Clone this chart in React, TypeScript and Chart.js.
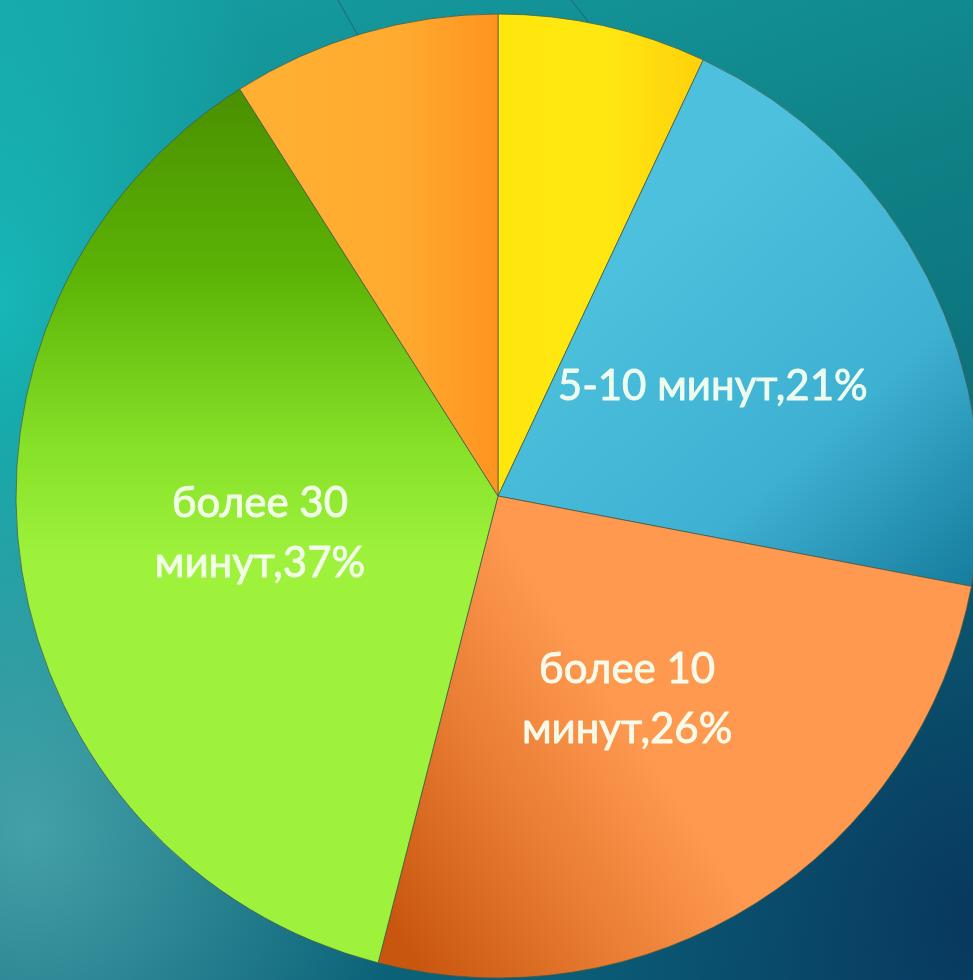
import React, { useEffect, useRef } from "react";
import { Chart, registerables } from "chart.js";

Chart.register(...registerables);

const categories = ["до 5 минут", "5-10 минут", "более 10 минут", "более 30 минут", "не смотрю"];
const values = [7, 21, 26, 37, 9];
const labelLines: string[][] = [[], ["5-10 минут,21%"], ["более 10", "минут,26%"], ["более 30", "минут,37%"], []];

const W = 996;
const H = 992;
const R = 482;

function makeFill(c: CanvasRenderingContext2D, i: number): CanvasGradient | string {
  const cx = W / 2;
  if (i === 0) {
    const g = c.createLinearGradient(cx, 0, cx + 210, 0);
    g.addColorStop(0, "#ffe70c");
    g.addColorStop(0.5, "#ffe812");
    g.addColorStop(1, "#ffcf0a");
    return g;
  }
  if (i === 1) {
    const g = c.createLinearGradient(640, 250, 960, 600);
    g.addColorStop(0, "#4dc0dd");
    g.addColorStop(0.55, "#3eb0d2");
    g.addColorStop(1, "#157c9c");
    return g;
  }
  if (i === 2) {
    const g = c.createLinearGradient(400, 940, 660, 770);
    g.addColorStop(0, "#c9560e");
    g.addColorStop(0.5, "#e67a30");
    g.addColorStop(1, "#ff9950");
    return g;
  }
  if (i === 3) {
    const g = c.createLinearGradient(0, 90, 0, 560);
    g.addColorStop(0, "#4a9000");
    g.addColorStop(0.4, "#5cb406");
    g.addColorStop(0.75, "#86e028");
    g.addColorStop(1, "#9ef23c");
    return g;
  }
  const g = c.createLinearGradient(250, 0, cx, 0);
  g.addColorStop(0, "#ffb032");
  g.addColorStop(0.6, "#ffab30");
  g.addColorStop(1, "#ff9420");
  return g;
}

const decorPlugin = {
  id: "decor",
  beforeDraw(chart: any) {
    const c = chart.ctx as CanvasRenderingContext2D;
    c.save();
    c.strokeStyle = "rgba(40,60,60,0.5)";
    c.lineWidth = 1;
    c.beginPath();
    c.moveTo(338, 0);
    c.lineTo(366, 50);
    c.moveTo(571, 0);
    c.lineTo(605, 43);
    c.stroke();
    c.restore();
  },
};

const labelPlugin = {
  id: "sliceLabels",
  afterDatasetsDraw(chart: any) {
    const c = chart.ctx as CanvasRenderingContext2D;
    const meta = chart.getDatasetMeta(0);
    c.save();
    c.font = "42px Lato, 'Open Sans', sans-serif";
    c.textAlign = "center";
    c.textBaseline = "middle";
    c.fillStyle = "rgba(246,255,240,0.95)";
    c.strokeStyle = "rgba(246,255,240,0.9)";
    c.lineWidth = 0.9;
    c.lineJoin = "round";
    meta.data.forEach((arc: any, i: number) => {
      const lines = labelLines[i];
      if (!lines || !lines.length) return;
      const p = arc.getCenterPoint();
      const lh = 60;
      const start = p.y - ((lines.length - 1) * lh) / 2;
      lines.forEach((t, k) => {
        c.fillText(t, p.x, start + k * lh);
        c.strokeText(t, p.x, start + k * lh);
      });
    });
    c.restore();
  },
};

export default function App() {
  const ref = useRef<HTMLCanvasElement | null>(null);
  useEffect(() => {
    if (!ref.current) return;
    const chart = new Chart(ref.current, {
      type: "pie",
      data: {
        labels: categories,
        datasets: [
          {
            data: values,
            backgroundColor: (ctx: any) => makeFill(ctx.chart.ctx, ctx.dataIndex),
            borderColor: "rgba(70,90,70,0.75)",
            borderWidth: 1,
            radius: R,
          } as any,
        ],
      },
      options: {
        responsive: false,
        animation: false,
        layout: { padding: 0 },
        plugins: {
          legend: { display: false },
          tooltip: { enabled: false },
        },
      },
      plugins: [decorPlugin, labelPlugin],
    });
    return () => chart.destroy();
  }, []);

  return (
    <div
      style={{
        position: "fixed",
        left: 0,
        top: 0,
        width: 973,
        height: 980,
        overflow: "hidden",
        background:
          "radial-gradient(ellipse 380px 420px at 30px 830px, rgba(105,195,200,0.6), rgba(105,195,200,0) 100%)," +
          "radial-gradient(ellipse 300px 520px at 0px 300px, rgba(25,190,190,0.85), rgba(25,190,190,0) 100%)," +
          "radial-gradient(ellipse 420px 520px at 973px 920px, rgba(8,50,90,0.85), rgba(8,50,90,0) 100%)," +
          "linear-gradient(160deg, #16a0a4 0%, #0f8286 35%, #0c6a78 65%, #0a5a78 100%)",
      }}
    >
      <canvas ref={ref} width={W} height={H} style={{ position: "absolute", left: 0, top: 0, width: W, height: H }} />
    </div>
  );
}
